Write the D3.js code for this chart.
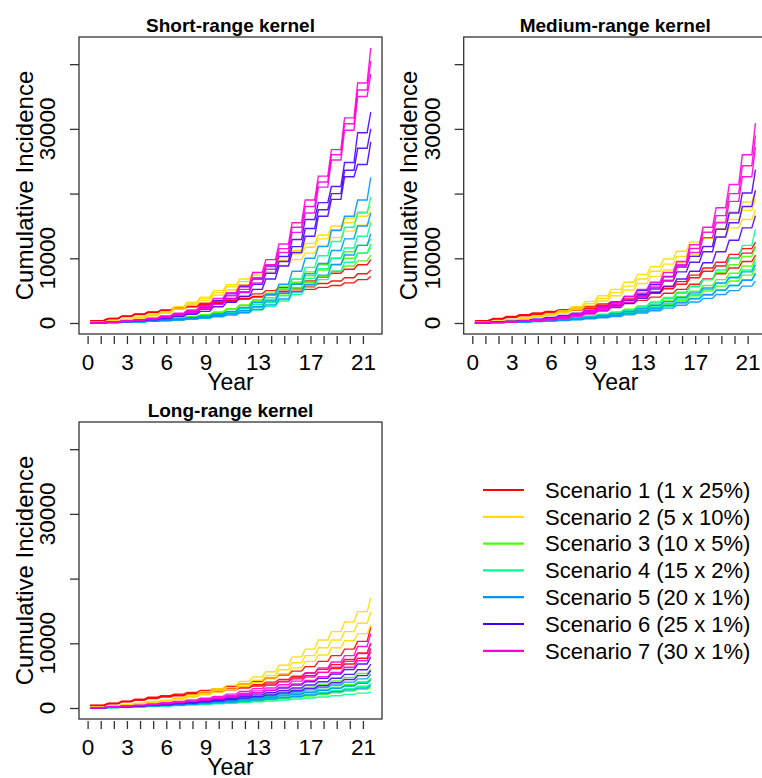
<!DOCTYPE html>
<html>
<head>
<meta charset="utf-8">
<script src="https://cdn.jsdelivr.net/npm/d3@7"></script>
<style>
  body { margin: 0; background: #fff; }
  svg { display: block; font-family: "Liberation Sans", Arial, Helvetica, sans-serif; }
</style>
</head>
<body>
<svg id="chart" width="762" height="778"></svg>
<script>
// cumulative incidence, in hundreds of cases
// each scenario has three runs (high / middle / low)
const times = [0.2, 1.6, 2.6, 3.6, 4.6, 5.6, 6.6, 7.6, 8.6, 9.6, 10.6, 11.6, 12.6, 13.6, 14.6, 15.6, 16.6, 17.6, 18.6, 19.6, 20.6, 21.6]
const yearTicks = d3.range(0, 22)
const yearLabels = [0, 3, 6, 9, 13, 17, 21]
const yTicks = [0, 10000, 20000, 30000, 40000]
const yLabels = [0, 10000, 30000]

const scenarios = ["Scenario 1 (1 x 25%)", "Scenario 2 (5 x 10%)", "Scenario 3 (10 x 5%)", "Scenario 4 (15 x 2%)",
  "Scenario 5 (20 x 1%)", "Scenario 6 (25 x 1%)", "Scenario 7 (30 x 1%)"]
const colors = ["#FF0000", "#FFDB00", "#49FF00", "#00FF92", "#0092FF", "#4900FF", "#FF00DB"] // rainbow(7)

// short-range kernel
const short1 = [
  [3.5,7,10.5,14,17,20,23.5,27,30.5,34,37.5,41,45,50,55,60,65,71,77,83,90,98],
  [3.5,7,10.5,13.5,16.5,19.5,22.5,25.5,28.5,31.5,34.5,37.5,41,45,49,53,57,61,65,70,76,82],
  [3.5,6.8,10,13,16,19,22,25,28,31,34,37,40,43,46,49,52,55,58,62,67,72]]
const short2 = [
  [1,3.2,5.8,9,12.8,17.5,25,32,40,50,59,68,78,90,101,112,123,136,150,162,172,180],
  [1,3,5.5,8.5,12,16.5,23,30,38,47,56,64,74,86,97,107,117,130,144,155,165,172],
  [0.8,2.7,5,7.8,11,15,21,27.5,35,43,51,59,68,79,89,98,108,120,132,142,151,158]]
const short3 = [
  [0.3,0.9,1.7,2.7,4,5.6,7.6,10,13,17,22,28,36,46,57,68,79,90,100,110,120,130],
  [0.3,0.8,1.5,2.4,3.5,5,7,9.5,12.5,16,21,27,34,43,53,63,73,82,91,100,108,117],
  [0.2,0.7,1.3,2.1,3,4.3,6,8,10.5,13.5,17.5,22.5,28.5,36,45,54,63,72,80,88,96,105]]
const short4 = [
  [0.3,0.8,1.5,2.4,3.4,4.7,6.2,8,10.5,13.5,17,22,29,39,52,68,86,104,126,148,170,195],
  [0.3,0.7,1.3,2,2.9,4,5.3,7,9,11.5,14.5,18.5,24,32,42,55,69,84,100,116,134,155],
  [0.2,0.6,1.1,1.7,2.5,3.4,4.5,6,7.5,9.5,12,15.5,20,26,34,44,55,67,80,94,108,122]]
const short5 = [
  [0.3,0.8,1.5,2.5,3.5,5,6.5,8.5,11,14,18,24,32,44,60,80,100,118,143,165,190,225],
  [0.3,0.7,1.3,2,3,4,5.5,7,9,12,15,19,25,34,46,60,76,92,112,130,150,170],
  [0.2,0.6,1.1,1.8,2.6,3.5,4.5,6,7.5,10,12.5,16,21,28,37,48,60,74,90,105,120,138]]
const short6 = [
  [0.5,1.5,2.8,4.5,6.5,9.5,13,18,24,35,45,56,68,88,103,129,160,186,211,248,294,326],
  [0.5,1.3,2.5,4,5.7,8,11.5,15.5,21,30,38,48,60,77,95,118,146,175,200,236,270,300],
  [0.4,1.2,2.2,3.5,5,7,10,13.5,18,25,32,41,52,68,88,109,134,165,191,226,245,280]]
const short7 = [
  [0.5,1.5,3,5,7.5,11,15,20,27,38,47,58,78,98,122,155,190,227,268,317,371,425],
  [0.5,1.4,2.7,4.5,7,10,13.5,18.5,25,33,42,52,70,90,115,148,180,218,260,308,360,405],
  [0.4,1.2,2.4,4,6,8.5,12,16.5,22,29,37,47,62,83,109,140,170,210,252,298,350,385]]

// medium-range kernel
const medium1 = [
  [3.5,7,10,13,15.5,18,20.5,23,26,29.5,33,37,42,48,56,64,74,85,94,106,115,125],
  [3.5,6.5,9.5,12,14.5,17,19.5,22,24.5,27.5,31,35,40,46,53,60,70,80,88,100,108,118],
  [3,6,8.5,11,13,15.5,17.5,19.5,22,24.5,27,30.5,35,40,46,52,60,68,76,85,95,105]]
const medium2 = [
  [1,2.8,5,7.7,11,14.5,19,25,33,42,52,63,75,87,99,111,125,141,157,172,187,205],
  [1,2.5,4.5,7,10,13,17,22.5,30,38,47,57,68,80,91,103,116,131,146,160,174,192],
  [0.8,2.3,4.2,6.5,9.2,12,15.5,20.5,27,34,42,51,61,72,82,93,105,119,133,147,160,175]]
const medium3 = [
  [0.3,0.8,1.5,2.4,3.5,4.8,6.4,8.4,10.8,13.7,17.2,21.4,26.5,32.5,39.5,47.5,57,67,78,90,103,118],
  [0.3,0.7,1.3,2.1,3,4.2,5.6,7.3,9.4,12,15,18.6,23,28,34,41,49,58,67,77,88,100],
  [0.2,0.6,1.1,1.8,2.6,3.6,4.8,6.3,8.1,10.3,12.9,16,19.7,24,29,35,42,49.5,57,65,74,85]]
const medium4 = [
  [0.3,0.8,1.4,2.2,3.2,4.4,5.9,7.7,10,12.7,16,20,25,31,38,46,56,67,82,100,120,145],
  [0.3,0.7,1.2,1.9,2.8,3.8,5,6.5,8.3,10.5,13.2,16.5,20.5,25,30.5,37,44,52,61,71,82,95],
  [0.2,0.6,1,1.6,2.3,3.2,4.2,5.5,7,8.8,11,13.7,17,21,25.5,30.5,36.5,43,50,58,67,78]]
const medium5 = [
  [0.3,0.7,1.3,2,2.9,4,5.3,7,9,11.5,14.5,18,22.5,27.5,33,39.5,46.5,54,62,70,79,90],
  [0.2,0.6,1.1,1.7,2.5,3.4,4.5,6,7.5,9.5,12,15,18.5,22.5,27,32,38,44,51,58,66,76],
  [0.2,0.5,0.9,1.5,2.1,2.9,3.8,5,6.3,8,10,12.5,15.5,19,23,27.5,32.5,38,44,50,57,65]]
const medium6 = [
  [0.5,1.5,2.6,4,6,8.5,11.5,15,19.5,25,32,41,50,60,72,88,103,118,145,170,201,237],
  [0.5,1.3,2.3,3.6,5.3,7.5,10,13,17,21.5,28,35,44,54,65,79,94,110,133,155,180,205],
  [0.4,1.1,2,3.2,4.7,6.5,8.7,11.5,15,19,24,30,38,47,57,68,80,93,110,128,147,166]]
const medium7 = [
  [0.5,1,2,3,5,7,10,14,19,25,32,41,52,63,78,95,121,148,178,214,260,309],
  [0.5,1,1.8,2.8,4.3,6,8.5,12,16.5,22,28.5,36,46,57,71,90,115,140,166,200,243,290],
  [0.5,1,1.5,2.5,3.5,5,7,10,14,19,25,32,41,52,66,86,109,132,155,188,226,272]]

// long-range kernel
const long1 = [
  [4.5,7.5,10.5,13.5,16.5,19,21.5,24,27,30,33.5,37,41,46,51,57,64,72,81,91,103,125],
  [4,7,10,13,15.5,18,20,22,24.5,27,30,33,36,40,44,49,54,60,67,75,85,100],
  [3.5,6.5,9.5,12,14.5,17,19,21,23,25.5,28,31,34,37,41,45,50,55,61,68,77,92]]
const long2 = [
  [1,3,5,7.5,10,12,16,20,25,30,35,41,48,56,66,79,91,105,118,133,149,170],
  [1,2.7,4.5,6.7,9,11,14.5,18,22.5,27,31.5,37,43,50,59,70,81,93,105,118,131,148],
  [0.8,2.4,4,6,8,10,13,16.5,20.5,24.5,28.5,33.5,39,45,53,62,72,82,93,104,115,128]]
const long3 = [
  [0.3,1,1.8,2.8,3.9,5.1,6.5,8,9.7,11.6,13.7,16,18.6,21.5,24.7,28.3,32.3,36.8,41.8,47.3,53.3,60],
  [0.3,0.9,1.6,2.5,3.4,4.4,5.5,6.8,8.2,9.7,11.4,13.2,15.2,17.4,19.8,22.4,25.3,28.5,32,36,40.5,46],
  [0.2,0.7,1.3,2,2.7,3.5,4.4,5.3,6.3,7.4,8.6,9.9,11.3,12.9,14.6,16.5,18.6,20.9,23.4,26.2,29,32]]
const long4 = [
  [0.3,0.9,1.6,2.4,3.3,4.3,5.4,6.6,8,9.5,11.1,12.9,14.8,16.9,19.2,21.7,24.4,27.4,30.7,34.4,39,45],
  [0.3,0.8,1.5,2.2,3,3.9,4.9,6,7.2,8.5,9.9,11.4,13,14.8,16.8,19,21.4,24,26.8,30,33.5,38],
  [0.2,0.6,1.1,1.7,2.3,3,3.7,4.5,5.4,6.3,7.3,8.4,9.6,10.9,12.3,13.8,15.4,17.1,19,21,23,25]]
const long5 = [
  [0.3,1,1.8,2.7,3.7,4.8,6,7.4,8.9,10.5,12.3,14.3,16.5,19,21.7,24.7,28,31.6,35.6,40,45,52],
  [0.3,0.9,1.6,2.4,3.3,4.3,5.3,6.5,7.8,9.2,10.8,12.5,14.4,16.5,18.8,21.3,24,27,30.3,34,38,43],
  [0.2,0.8,1.4,2.1,2.9,3.7,4.6,5.6,6.7,7.9,9.2,10.6,12.2,13.9,15.8,17.8,20,22.4,25,28,31,35]]
const long6 = [
  [0.5,1.4,2.5,3.7,5,6.5,8.2,10,12.2,14.5,17,20,23.3,27,31,35.5,40.5,46,52.5,59.5,68,79],
  [0.4,1.2,2.2,3.3,4.5,5.8,7.3,9,10.8,12.8,15,17.5,20.3,23.5,27,31,35.5,40.5,46,52,59,68],
  [0.3,1,1.9,2.9,4,5.1,6.4,7.8,9.4,11.1,13,15.2,17.6,20.3,23.3,26.6,30.3,34.4,39,44,50,58]]
const long7 = [
  [0.6,1.7,3,4.5,6.2,8,10,12.5,15,18,21.5,25.5,30,35,40.5,47,54,62,71,81,95,115],
  [0.5,1.5,2.7,4,5.5,7.2,9,11,13.5,16,19,22.5,26.5,31,36,41.5,48,55,63,72,84,100],
  [0.4,1.3,2.4,3.6,4.9,6.4,8,9.8,12,14.3,17,20,23.5,27.5,32,37,42.5,48.5,55,63,73,87]]

//a step curve where each season's rise takes the last part of the interval
function curveSeason(flat) {
  return context => ({
    lineStart() { this._p = 0 },
    lineEnd() {},
    point(x, y) {
      if (!this._p) { context.moveTo(x, y); this._p = 1 }
      else {
        context.lineTo(this._x + (x - this._x) * flat, this._y)
        context.lineTo(x, y)
      }
      this._x = x; this._y = y
    }
  })
}

const svg = d3.select("#chart")
const W = 303, H = 297 //plot box
const x = d3.scaleLinear().domain([0.2 - 0.856, 21.6 + 0.856]).range([0, W])
const y = d3.scaleLinear().domain([-1700, 44200]).range([H, 0])

const panels = [
  {title: "Short-range kernel", runs: [short1, short2, short3, short4, short5, short6, short7], dx: 79, dy: 37},
  {title: "Medium-range kernel", runs: [medium1, medium2, medium3, medium4, medium5, medium6, medium7], dx: 463.7, dy: 37},
  {title: "Long-range kernel", runs: [long1, long2, long3, long4, long5, long6, long7], dx: 79, dy: 422}
]

const line = d3.line()
  .x((d, i) => x(times[i]))
  .y(d => y(d * 100))
  .curve(curveSeason(0.72))

panels.forEach(p => {
  let g = svg.append("g").attr("transform", `translate(${p.dx},${p.dy})`)

  p.runs.forEach((scen, s) => {
    g.append("g")
      .selectAll("path")
      .data(scen)
      .join("path")
      .attr("d", line)
      .attr("fill", "none")
      .attr("stroke", colors[s])
      .attr("stroke-opacity", 0.9)
      .attr("stroke-width", 1.4)
  })

  g.append("rect")
    .attr("width", W).attr("height", H)
    .attr("fill", "none").attr("stroke", "#333").attr("stroke-width", 1.3)

  //x axis: ticks every year, labels only where R had room
  let xa = g.append("g")
    .attr("transform", `translate(0,${H + 2})`)
    .call(d3.axisBottom(x).tickValues(yearTicks).tickSize(8).tickPadding(10)
      .tickFormat(d => yearLabels.includes(d) ? d : ""))
  xa.select(".domain").remove()
  xa.selectAll("line").attr("stroke", "#333").attr("stroke-width", 1.3)
  xa.selectAll("text").attr("font-size", 22.5).attr("font-family", "Liberation Sans, Arial").attr("fill", "#000")

  let ya = g.append("g")
    .call(d3.axisLeft(y).tickValues(yTicks).tickSize(9).tickFormat(""))
  ya.select(".domain").remove()
  ya.selectAll("line").attr("stroke", "#333").attr("stroke-width", 1.3)

  g.selectAll(".ylab")
    .data(yLabels)
    .join("text")
    .attr("class", "ylab")
    .attr("transform", d => `translate(-24,${y(d)}) rotate(-90)`)
    .attr("text-anchor", "middle")
    .attr("font-size", 22.5)
    .text(d => d)

  g.append("text")
    .attr("transform", `translate(-46.5,${H / 2}) rotate(-90)`)
    .attr("text-anchor", "middle")
    .attr("font-size", 24)
    .text("Cumulative Incidence")

  g.append("text")
    .attr("x", W / 2).attr("y", 353)
    .attr("text-anchor", "middle")
    .attr("font-size", 23)
    .text("Year")

  g.append("text")
    .attr("x", W / 2).attr("y", -5.5)
    .attr("text-anchor", "middle")
    .attr("font-size", 19)
    .attr("font-weight", "bold")
    .text(p.title)
})

//legend in the empty fourth slot
let legend = svg.append("g").attr("transform", "translate(483,490)")
let item = legend.selectAll("g")
  .data(scenarios)
  .join("g")
  .attr("transform", (d, i) => `translate(0,${i * 26.8})`)
item.append("line")
  .attr("x2", 41)
  .attr("stroke", (d, i) => colors[i])
  .attr("stroke-width", 2.2)
item.append("text")
  .attr("x", 62).attr("y", 7.8)
  .attr("font-size", 22)
  .text(d => d)
</script>
</body>
</html>
